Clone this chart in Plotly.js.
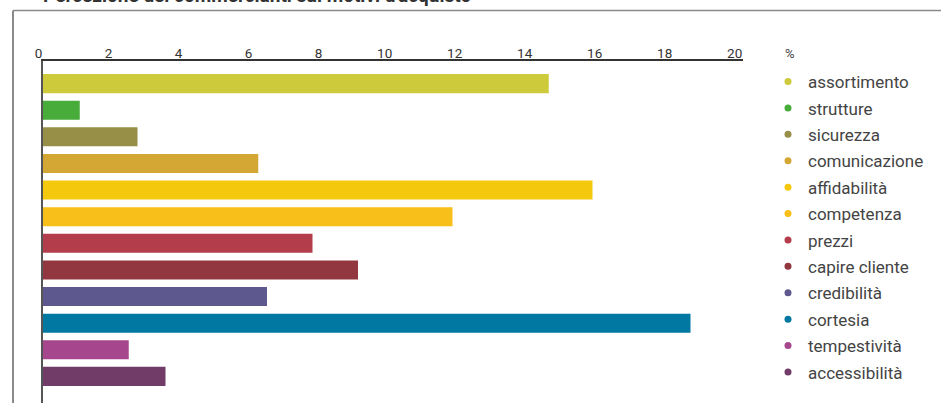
<!DOCTYPE html>
<html>
<head>
<meta charset="utf-8">
<script src="https://cdn.plot.ly/plotly-3.0.1.min.js"></script>
<style>html,body{margin:0;padding:0;background:#fff;}#chart{width:941px;height:403px;}</style>
</head>
<body>
<div id="chart"></div>
<script>
const categories = ["assortimento","strutture","sicurezza","comunicazione","affidabilità","competenza","prezzi","capire cliente","credibilità","cortesia","tempestività","accessibilità"];
const values = [14.45, 1.05, 2.7, 6.15, 15.7, 11.7, 7.7, 9.0, 6.4, 18.5, 2.45, 3.5];
const colors = ["#CDCA3C","#47AC3A","#978E48","#D4A734","#F4C80C","#F8BE1A","#B43D4C","#92363F","#5D588E","#0078A2","#A6478E","#713D68"];
const tickValues = [0,2,4,6,8,10,12,14,16,18,20];
const titleText = "Percezione dei commercianti sui motivi d'acquisto";
const unitLabel = "%";

const traces = [{
  type: "bar",
  orientation: "h",
  x: values,
  y: categories,
  marker: {color: colors},
  showlegend: false,
  hoverinfo: "x+y"
}];
categories.forEach((c, i) => {
  traces.push({
    type: "scatter", mode: "markers",
    x: [null], y: [null],
    name: c,
    legendgroup: "g" + i,
    marker: {color: colors[i], size: 7, symbol: "circle"},
    showlegend: true
  });
});

const W = 941, H = 403, L = 43, R = 198, T = 61, B = 0;
const pw = W - L - R, ph = H - T - B;
const px = v => (v - L) / pw;
const py = v => 1 - (v - T) / ph;

const layout = {
  width: W, height: H,
  margin: {l: L, r: R, t: T, b: B, pad: 0},
  paper_bgcolor: "#fff", plot_bgcolor: "#fff",
  font: {family: "Roboto, sans-serif", color: "#333"},
  barmode: "overlay",
  bargap: 0.285,
  xaxis: {
    side: "top", range: [0, 20], tickvals: tickValues, ticktext: tickValues.map(String),
    showline: true, linecolor: "#333", linewidth: 1.5, showgrid: false, zeroline: false,
    ticks: "", ticklabelposition: "outside left", ticklabelstandoff: -4,
    tickfont: {family: "Roboto", size: 13.5, color: "#333"}, fixedrange: true
  },
  yaxis: {
    type: "category", range: [12.0, -0.85], showticklabels: false,
    showline: true, linecolor: "#555", linewidth: 2, showgrid: false, zeroline: false, ticks: "", fixedrange: true
  },
  legend: {
    x: px(768), xanchor: "left", y: py(64), yanchor: "top",
    font: {family: "Roboto", size: 17, color: "#444"},
    tracegroupgap: 1.3, itemwidth: 30, bgcolor: "rgba(0,0,0,0)"
  },
  annotations: [{
    text: "<b>" + titleText + "</b>", xref: "paper", yref: "paper", x: px(41), y: py(9.5),
    xanchor: "left", yanchor: "bottom", showarrow: false,
    font: {family: "Roboto", size: 19, color: "#333"}
  }, {
    text: unitLabel, xref: "paper", yref: "paper", x: px(790), y: py(53),
    xanchor: "center", yanchor: "middle", showarrow: false,
    font: {family: "Roboto", size: 13, color: "#444"}
  }],
  shapes: [
    {type: "line", xref: "paper", yref: "paper", x0: px(13), x1: px(941), y0: py(10.5), y1: py(10.5), line: {color: "#8a8a8a", width: 1.5}},
    {type: "line", xref: "paper", yref: "paper", x0: px(13), x1: px(13), y0: py(10.5), y1: py(403), line: {color: "#8a8a8a", width: 2}}
  ]
};

Plotly.newPlot("chart", traces, layout, {displayModeBar: false, responsive: false});
</script>
</body>
</html>
